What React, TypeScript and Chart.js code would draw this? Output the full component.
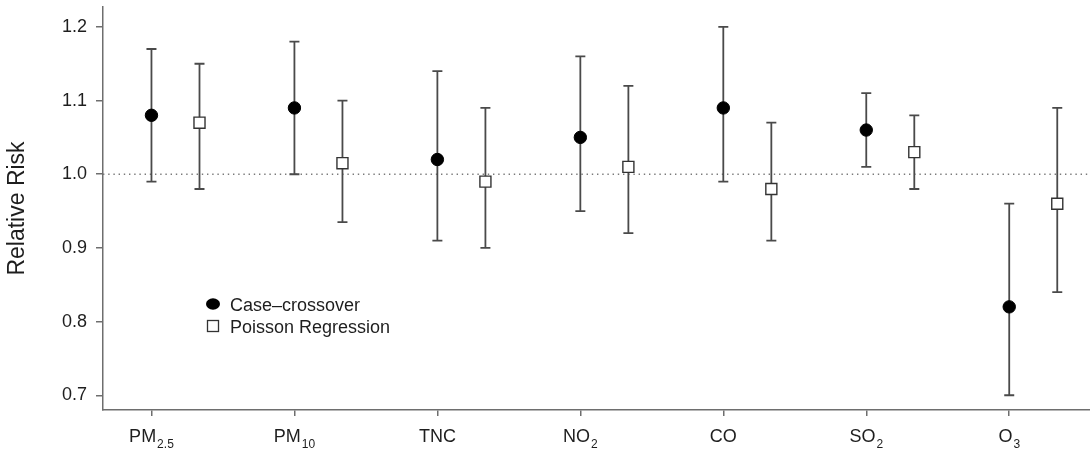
import { useEffect, useRef } from "react";
import { Chart, registerables } from "chart.js";

Chart.register(...registerables);

// ---- data ----
const categories = ["PM_2.5", "PM_10", "TNC", "NO_2", "CO", "SO_2", "O_3"];
const ccEst = [1.08, 1.09, 1.02, 1.05, 1.09, 1.06, 0.82];
const ccLow = [0.99, 1.0, 0.91, 0.95, 0.99, 1.01, 0.7];
const ccHigh = [1.17, 1.18, 1.14, 1.16, 1.2, 1.11, 0.96];
const prEst = [1.07, 1.015, 0.99, 1.01, 0.98, 1.03, 0.96];
const prLow = [0.98, 0.935, 0.9, 0.92, 0.91, 0.98, 0.84];
const prHigh = [1.15, 1.1, 1.09, 1.12, 1.07, 1.08, 1.09];
const yTicks = [0.7, 0.8, 0.9, 1.0, 1.1, 1.2];
const seriesNames = ["Case\u2013crossover", "Poisson Regression"];
const referenceValue = 1.0;

// ---- layout / style constants ----
const FONT = "'Liberation Sans', Arial, Helvetica, sans-serif";
const POISSON_OFFSET = 0.336;
const AXIS_COLOR = "#6e6e6e";
const BAR_COLOR = "#4a4a4a";
const TEXT_COLOR = "#1e1e1e";

const zeroPadding = (scale: any) => {
  scale.paddingTop = 0;
  scale.paddingBottom = 0;
  scale.paddingLeft = 0;
  scale.paddingRight = 0;
};

const overlayPlugin = {
  id: "overlay",
  beforeDatasetsDraw(chart: any) {
    const { ctx, chartArea } = chart;
    const x = chart.scales.x;
    const y = chart.scales.y;
    ctx.save();
    // reference dotted line
    const yr = y.getPixelForValue(referenceValue);
    ctx.strokeStyle = "#7a7a7a";
    ctx.lineWidth = 1.4;
    ctx.setLineDash([1.4, 3.8]);
    ctx.beginPath();
    ctx.moveTo(chartArea.left, yr);
    ctx.lineTo(chartArea.right, yr);
    ctx.stroke();
    ctx.setLineDash([]);
    // error bars
    ctx.strokeStyle = BAR_COLOR;
    ctx.lineWidth = 1.8;
    chart.data.datasets.forEach((ds: any) => {
      ds.data.forEach((pt: any) => {
        const px = x.getPixelForValue(pt.x);
        const pl = y.getPixelForValue(pt.low);
        const ph = y.getPixelForValue(pt.high);
        ctx.beginPath();
        ctx.moveTo(px, pl);
        ctx.lineTo(px, ph);
        ctx.moveTo(px - 5, pl);
        ctx.lineTo(px + 5, pl);
        ctx.moveTo(px - 5, ph);
        ctx.lineTo(px + 5, ph);
        ctx.stroke();
      });
    });
    ctx.restore();
  },
  afterDraw(chart: any) {
    const { ctx } = chart;
    const x = chart.scales.x;
    ctx.save();
    ctx.fillStyle = TEXT_COLOR;
    ctx.textBaseline = "alphabetic";
    // x labels with subscripts
    const mainFont = `18px ${FONT}`;
    const subFont = `12px ${FONT}`;
    categories.forEach((lab, i) => {
      const [main, sub] = lab.split("_");
      ctx.font = mainFont;
      const wm = ctx.measureText(main).width;
      ctx.font = subFont;
      const ws = sub ? ctx.measureText(sub).width + 1 : 0;
      const cx = x.getPixelForValue(i);
      const start = cx - (wm + ws) / 2;
      ctx.textAlign = "left";
      ctx.font = mainFont;
      ctx.fillText(main, start, 442);
      if (sub) {
        ctx.font = subFont;
        ctx.fillText(sub, start + wm + 1, 447.5);
      }
    });
    // legend
    const lx = 213;
    const ly1 = 304;
    const ly2 = 326;
    ctx.fillStyle = "#000";
    ctx.beginPath();
    ctx.ellipse(lx, ly1, 7, 5.8, 0, 0, Math.PI * 2);
    ctx.fill();
    ctx.fillStyle = "#fff";
    ctx.strokeStyle = "#333";
    ctx.lineWidth = 1.3;
    ctx.fillRect(lx - 5.5, ly2 - 5.5, 11, 11);
    ctx.strokeRect(lx - 5.5, ly2 - 5.5, 11, 11);
    ctx.fillStyle = TEXT_COLOR;
    ctx.font = `18px ${FONT}`;
    ctx.textAlign = "left";
    ctx.fillText(seriesNames[0], 230, 310.5);
    ctx.fillText(seriesNames[1], 230, 333);
    ctx.restore();
  },
};

export default function App() {
  const ref = useRef<HTMLCanvasElement | null>(null);

  useEffect(() => {
    if (!ref.current) return;
    const ccData = categories.map((_, i) => ({ x: i, y: ccEst[i], low: ccLow[i], high: ccHigh[i] }));
    const prData = categories.map((_, i) => ({
      x: i + POISSON_OFFSET,
      y: prEst[i],
      low: prLow[i],
      high: prHigh[i],
    }));
    const chart = new Chart(ref.current, {
      type: "scatter",
      data: {
        datasets: [
          {
            label: seriesNames[0],
            data: ccData,
            pointStyle: "circle",
            pointRadius: 6.2,
            backgroundColor: "#000",
            borderColor: "#000",
            borderWidth: 1,
          },
          {
            label: seriesNames[1],
            data: prData,
            pointStyle: "rect",
            pointRadius: 7.8,
            backgroundColor: "#fff",
            borderColor: "#333",
            borderWidth: 1.4,
          },
        ],
      },
      options: {
        responsive: false,
        animation: false,
        layout: { autoPadding: false, padding: { top: 7, left: 0, right: 0, bottom: 0 } },
        plugins: { legend: { display: false }, tooltip: { enabled: false } },
        scales: {
          x: {
            type: "linear",
            min: -0.339,
            max: 6.565,
            afterBuildTicks: (scale: any) => {
              scale.ticks = categories.map((_, i) => ({ value: i }));
            },
            afterFit: (scale: any) => {
              scale.height = 42;
              zeroPadding(scale);
            },
            ticks: { display: false },
            grid: {
              display: true,
              drawOnChartArea: false,
              drawTicks: true,
              tickLength: 6,
              color: AXIS_COLOR,
              lineWidth: 1.5,
            },
            border: { display: true, color: AXIS_COLOR, width: 1.5 },
          },
          y: {
            type: "linear",
            min: 0.68,
            max: 1.227,
            afterBuildTicks: (scale: any) => {
              scale.ticks = yTicks.map((v) => ({ value: v }));
            },
            afterFit: (scale: any) => {
              scale.width = 103;
              zeroPadding(scale);
            },
            ticks: {
              callback: (v: any) => Number(v).toFixed(1),
              font: { family: FONT, size: 18 },
              color: TEXT_COLOR,
              padding: 9,
            },
            title: {
              display: true,
              text: "Relative Risk",
              font: { family: FONT, size: 23 },
              color: TEXT_COLOR,
              padding: { top: 4, bottom: 0 },
            },
            grid: {
              display: true,
              drawOnChartArea: false,
              drawTicks: true,
              tickLength: 7,
              color: AXIS_COLOR,
              lineWidth: 1.5,
            },
            border: { display: true, color: AXIS_COLOR, width: 1.5 },
          },
        },
      },
      plugins: [overlayPlugin],
    } as any);
    return () => chart.destroy();
  }, []);

  return (
    <div style={{ position: "fixed", left: 0, top: 0, width: 1090, height: 452, background: "#fff" }}>
      <canvas ref={ref} width={1090} height={452} />
    </div>
  );
}
